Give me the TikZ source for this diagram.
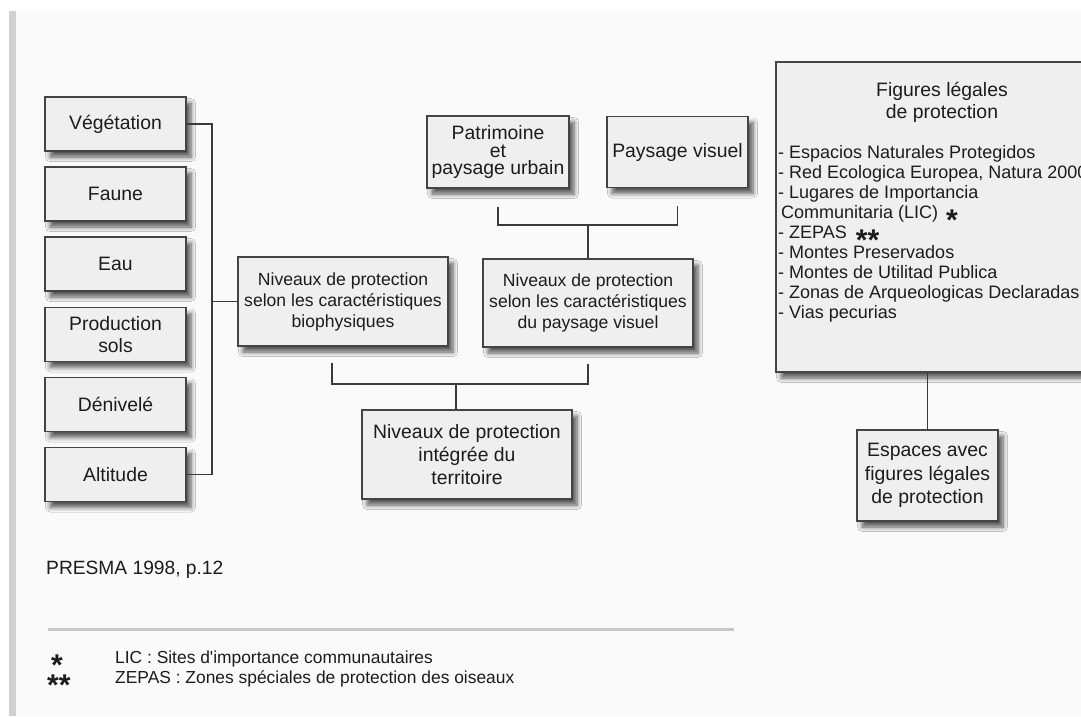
\documentclass[tikz,border=0pt]{standalone}
\usepackage{fontspec}
\setmainfont{Liberation Sans}[Ligatures=TeXOff]
\usetikzlibrary{shadows.blur,calc}
\definecolor{boxfill}{HTML}{EFEFEF}
\definecolor{boxdraw}{HTML}{444444}
\definecolor{panelcol}{HTML}{FAFAFA}
\definecolor{barcol}{HTML}{D0D0D0}
\definecolor{linecol}{HTML}{3A3A3A}
\definecolor{txt}{HTML}{1C1C1C}
\definecolor{sepcol}{HTML}{C8C8C8}
\newcommand{\mystar}{\smash{\raisebox{-12pt}{\fontsize{30}{30}\selectfont\bfseries *}}}
\begin{document}
\begin{tikzpicture}[x=1pt,y=-1pt,
  box/.style={draw=boxdraw, line width=1.2pt, fill=boxfill, inner sep=0pt, align=center, text=txt,
    blur shadow={shadow xshift=5pt, shadow yshift=-6pt, shadow blur radius=4.5pt, shadow blur steps=6, shadow opacity=65}},
  conn/.style={draw=linecol, line width=1.1pt},
  bigtxt/.style={font=\fontsize{19.4}{22}\selectfont},
  midtxt/.style={font=\fontsize{17.6}{21}\selectfont},
  listtxt/.style={font=\fontsize{18}{20}\selectfont, text=txt, inner sep=0pt},
  notetxt/.style={font=\fontsize{17.4}{20}\selectfont, text=txt, inner sep=0pt},
  leftbox/.style={box, bigtxt, minimum width=141pt, minimum height=54pt}]
\useasboundingbox (0,0) rectangle (1081,716);
\clip (0,0) rectangle (1081,716);
% panel
\fill[panelcol] (16,11) rectangle (1081,716);
\fill[barcol] (9,11) rectangle (16,716);

% left column
\node[leftbox] (veg) at (115.5,124) {Végétation};
\node[leftbox] (faune) at (115.5,194) {Faune};
\node[leftbox] (eau) at (115.5,264) {Eau};
\node[leftbox, font=\fontsize{19.4}{21.7}\selectfont] (prod) at (115.5,334.5) {Production\\sols};
\node[leftbox] (deniv) at (115.5,404.5) {Dénivelé};
\node[leftbox] (alt) at (115.5,474.5) {Altitude};

% middle
\node[box, font=\fontsize{19.4}{17.5}\selectfont, minimum width=142pt, minimum height=72pt] (patr) at (498,152) {Patrimoine\\et\\paysage urbain};
\node[box, bigtxt, minimum width=141pt, minimum height=71pt] (paysv) at (677.5,152) {Paysage visuel};
\node[box, midtxt, minimum width=210pt, minimum height=89pt] (bio) at (343,301.5) {Niveaux de protection\\selon les caractéristiques\\biophysiques};
\node[box, midtxt, minimum width=210pt, minimum height=88pt] (visu) at (588,303) {Niveaux de protection\\selon les caractéristiques\\du paysage visuel};
\node[box, font=\fontsize{19.4}{23}\selectfont, minimum width=210pt, minimum height=89pt] (integ) at (467,454.5) {Niveaux de protection\\intégrée du\\territoire};

% right
\node[box, minimum width=332pt, minimum height=310pt] (fig) at (942,217) {};
\node[bigtxt, anchor=base, inner sep=0pt, text=txt] (ft1) at (942,96) {Figures légales};
\node[bigtxt, anchor=base, inner sep=0pt, text=txt] (ft2) at (942,118) {de protection};
\node[listtxt, anchor=base west] (l1) at (778,158) {- Espacios Naturales Protegidos};
\node[listtxt, anchor=base west] (l2) at (778,178) {- Red Ecologica Europea, Natura 2000};
\node[listtxt, anchor=base west] (l3) at (778,198) {- Lugares de Importancia};
\node[listtxt, anchor=base west] (l4) at (778,218) {\hspace{3pt}Communitaria (LIC)\hspace{8pt}\mystar};
\node[listtxt, anchor=base west] (l5) at (778,238) {- ZEPAS\hspace{9pt}\mystar\hspace{0pt}\mystar};
\node[listtxt, anchor=base west] (l6) at (778,258) {- Montes Preservados};
\node[listtxt, anchor=base west] (l7) at (778,278) {- Montes de Utilitad Publica};
\node[listtxt, anchor=base west] (l8) at (778,298) {- Zonas de Arqueologicas Declaradas};
\node[listtxt, anchor=base west] (l9) at (778,318) {- Vias pecurias};
\node[box, font=\fontsize{19.4}{23.3}\selectfont, minimum width=141pt, minimum height=91pt] (esp) at (927.5,475.5) {Espaces avec\\figures légales\\de protection};

% connectors
\coordinate (bx) at (212,300);
\draw[conn] (veg.east) -- (veg.east -| bx) -- (alt.east -| bx) -- (alt.east);
\draw[conn] (bio.west -| bx) -- (bio.west);
\coordinate (tj) at (588,225);
\coordinate (tl) at ($(patr.south)+(0,18)$);
\coordinate (tr) at ($(paysv.south)+(0,18)$);
\draw[conn] (tl) -- (tl |- tj) -- (tr |- tj) -- (tr);
\draw[conn] (tj) -- (visu.north);
\coordinate (bj) at (456,384);
\coordinate (bl) at ($(bio.south)+(-11,16)$);
\coordinate (br) at ($(visu.south)+(0,16)$);
\draw[conn] (bl) -- (bl |- bj) -- (br |- bj) -- (br);
\draw[conn] (bj) -- (bj |- integ.north);
\draw[conn] (esp.north) -- (esp.north |- fig.south);

% source and notes
\node[anchor=base west, inner sep=0pt, text=txt, font=\fontsize{19.2}{22}\selectfont] (src) at (46,574) {PRESMA 1998, p.12};
\draw[sepcol, line width=3pt] (48,629) -- (734,629);
\node[notetxt, anchor=base west] (s1) at (51,663) {\mystar};
\node[notetxt, anchor=base west] (n1) at (115,663) {LIC : Sites d'importance communautaires};
\node[notetxt, anchor=base west] (s2) at (47,683) {\mystar\mystar};
\node[notetxt, anchor=base west] (n2) at (115,683) {ZEPAS : Zones spéciales de protection des oiseaux};
\end{tikzpicture}
\end{document}
